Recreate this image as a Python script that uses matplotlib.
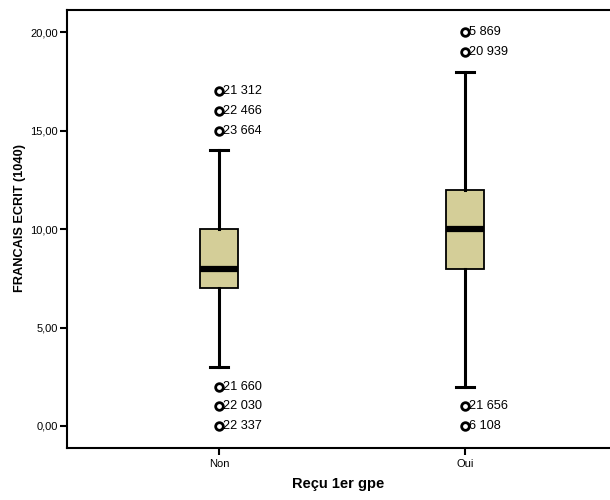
import matplotlib
matplotlib.use("Agg")
import matplotlib.pyplot as plt

plt.rcParams['font.family'] = ['Liberation Sans', 'DejaVu Sans']

categories = ["Non", "Oui"]
q1 = [7.0, 8.0]
median = [8.0, 10.0]
q3 = [10.0, 12.0]
whislo = [3.0, 2.0]
whishi = [14.0, 18.0]
outliers = [[17.0, 16.0, 15.0, 2.0, 1.0, 0.0], [20.0, 19.0, 1.0, 0.0]]
outlier_ids = [["21 312", "22 466", "23 664", "21 660", "22 030", "22 337"],
               ["5 869", "20 939", "21 656", "6 108"]]
yticks = [0, 5, 10, 15, 20]
ytick_labels = ["0,00", "5,00", "10,00", "15,00", "20,00"]

fig = plt.figure(figsize=(6.1, 5.0), dpi=100)
ax = fig.add_axes([0.1098, 0.104, 0.8902, 0.876])

stats = []
for i, c in enumerate(categories):
    stats.append(dict(label=c, q1=q1[i], med=median[i], q3=q3[i],
                      whislo=whislo[i], whishi=whishi[i], fliers=outliers[i]))

positions = [1, 2]
ax.bxp(stats, positions=positions, widths=0.157, patch_artist=True,
       showfliers=True,
       boxprops=dict(facecolor="#d4ce98", edgecolor="black", linewidth=1.3),
       medianprops=dict(color="black", linewidth=4.5, solid_capstyle="butt"),
       whiskerprops=dict(color="black", linewidth=2.2),
       capprops=dict(color="black", linewidth=2.2),
       capwidths=0.075,
       flierprops=dict(marker="o", markersize=5.5, markerfacecolor="white",
                       markeredgecolor="black", markeredgewidth=2.0))

for i, pos in enumerate(positions):
    for v, lab in zip(outliers[i], outlier_ids[i]):
        ax.annotate(lab, (pos, v), xytext=(3.0, 0), textcoords="offset points",
                    va="center", ha="left", fontsize=9.2)

ax.set_xlim(0.382, 2.59)
ax.set_ylim(-1.12, 21.14)
ax.set_yticks(yticks)
ax.set_yticklabels(ytick_labels, fontsize=8)
ax.set_xticks(positions)
ax.set_xticklabels(categories, fontsize=8)
ax.tick_params(axis="both", width=1.5, length=5, direction="out", pad=1.5)
ax.tick_params(axis="x", pad=3)
for s in ["left", "top", "bottom"]:
    ax.spines[s].set_linewidth(1.5)
ax.spines["right"].set_visible(False)
ax.set_xlabel("Reçu 1er gpe", fontsize=10.5, fontweight="bold", labelpad=6)
ax.set_ylabel("FRANCAIS ECRIT (1040)", fontsize=9.2, fontweight="bold")
ax.yaxis.set_label_coords(-0.075, 0.525)

fig.savefig("out.png", dpi=100)
